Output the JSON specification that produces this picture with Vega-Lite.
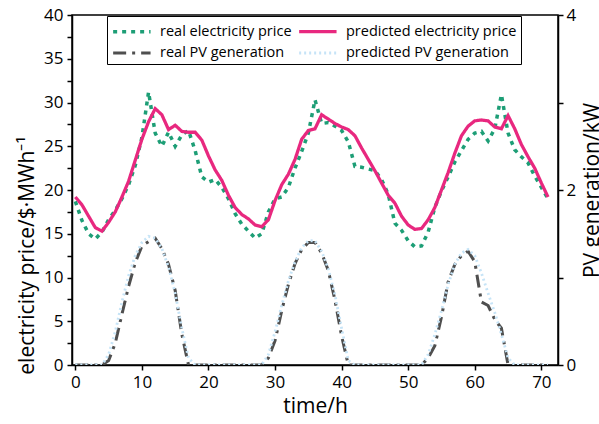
{
  "$schema": "https://vega.github.io/schema/vega-lite/v6.json",
  "width": 486,
  "height": 350,
  "autosize": {"type": "none"},
  "padding": {"left": 72, "top": 15, "right": 41, "bottom": 59},
  "background": "white",
  "config": {
    "view": {"stroke": "black", "strokeWidth": 1.5},
    "font": "Open Sans",
    "axis": {
      "grid": false,
      "domainColor": "black",
      "domainWidth": 1.5,
      "tickColor": "black",
      "tickWidth": 1.5,
      "tickSize": 5,
      "labelColor": "black",
      "labelFont": "Open Sans",
      "labelFontSize": 17,
      "titleFont": "Open Sans",
      "titleFontSize": 21,
      "titleFontWeight": "normal",
      "titleColor": "black"
    },
    "legend": {
      "orient": "none",
      "direction": "horizontal",
      "legendX": 35,
      "legendY": 1,
      "columns": 2,
      "columnPadding": 0,
      "rowPadding": 3,
      "padding": 4,
      "strokeColor": "black",
      "fillColor": "white",
      "labelFont": "Open Sans",
      "labelFontSize": 14.5,
      "labelColor": "black",
      "labelOffset": 26,
      "labelLimit": 400,
      "symbolType": "M-1,0H3",
      "symbolSize": 350,
      "title": null
    }
  },
  "data": {
    "values": [
      {"t":0,"real electricity price":18.7,"predicted electricity price":19.2,"real PV generation":0,"predicted PV generation":0},
      {"t":1,"real electricity price":16.5,"predicted electricity price":18.3,"real PV generation":0,"predicted PV generation":0},
      {"t":2,"real electricity price":15.0,"predicted electricity price":17.0,"real PV generation":0,"predicted PV generation":0},
      {"t":3,"real electricity price":14.4,"predicted electricity price":15.7,"real PV generation":0,"predicted PV generation":0},
      {"t":4,"real electricity price":15.2,"predicted electricity price":15.3,"real PV generation":0,"predicted PV generation":0},
      {"t":5,"real electricity price":16.6,"predicted electricity price":16.3,"real PV generation":0.05,"predicted PV generation":0.12},
      {"t":6,"real electricity price":17.7,"predicted electricity price":17.5,"real PV generation":0.25,"predicted PV generation":0.38},
      {"t":7,"real electricity price":19.0,"predicted electricity price":19.2,"real PV generation":0.58,"predicted PV generation":0.72},
      {"t":8,"real electricity price":20.6,"predicted electricity price":21.0,"real PV generation":0.9,"predicted PV generation":1.02},
      {"t":9,"real electricity price":22.8,"predicted electricity price":23.4,"real PV generation":1.17,"predicted PV generation":1.25},
      {"t":10,"real electricity price":26.0,"predicted electricity price":25.8,"real PV generation":1.36,"predicted PV generation":1.4},
      {"t":11,"real electricity price":31.2,"predicted electricity price":27.8,"real PV generation":1.41,"predicted PV generation":1.47},
      {"t":12,"real electricity price":26.5,"predicted electricity price":29.3,"real PV generation":1.45,"predicted PV generation":1.45},
      {"t":13,"real electricity price":25.0,"predicted electricity price":28.6,"real PV generation":1.33,"predicted PV generation":1.33},
      {"t":14,"real electricity price":26.6,"predicted electricity price":26.9,"real PV generation":1.15,"predicted PV generation":1.12},
      {"t":15,"real electricity price":25.0,"predicted electricity price":27.4,"real PV generation":0.85,"predicted PV generation":0.82},
      {"t":16,"real electricity price":26.3,"predicted electricity price":26.7,"real PV generation":0.35,"predicted PV generation":0.42},
      {"t":17,"real electricity price":26.8,"predicted electricity price":26.6,"real PV generation":0,"predicted PV generation":0.08},
      {"t":18,"real electricity price":24.5,"predicted electricity price":26.6,"real PV generation":0,"predicted PV generation":0},
      {"t":19,"real electricity price":21.5,"predicted electricity price":25.7,"real PV generation":0,"predicted PV generation":0},
      {"t":20,"real electricity price":20.9,"predicted electricity price":23.9,"real PV generation":0,"predicted PV generation":0},
      {"t":21,"real electricity price":21.2,"predicted electricity price":22.3,"real PV generation":0,"predicted PV generation":0},
      {"t":22,"real electricity price":20.3,"predicted electricity price":21.1,"real PV generation":0,"predicted PV generation":0},
      {"t":23,"real electricity price":19.0,"predicted electricity price":19.4,"real PV generation":0,"predicted PV generation":0},
      {"t":24,"real electricity price":17.3,"predicted electricity price":18.0,"real PV generation":0,"predicted PV generation":0},
      {"t":25,"real electricity price":16.1,"predicted electricity price":17.2,"real PV generation":0,"predicted PV generation":0},
      {"t":26,"real electricity price":15.3,"predicted electricity price":16.7,"real PV generation":0,"predicted PV generation":0},
      {"t":27,"real electricity price":14.5,"predicted electricity price":16.0,"real PV generation":0,"predicted PV generation":0},
      {"t":28,"real electricity price":15.0,"predicted electricity price":15.8,"real PV generation":0,"predicted PV generation":0},
      {"t":29,"real electricity price":17.5,"predicted electricity price":16.6,"real PV generation":0.08,"predicted PV generation":0.12},
      {"t":30,"real electricity price":19.0,"predicted electricity price":18.8,"real PV generation":0.28,"predicted PV generation":0.38},
      {"t":31,"real electricity price":19.2,"predicted electricity price":20.6,"real PV generation":0.62,"predicted PV generation":0.68},
      {"t":32,"real electricity price":20.3,"predicted electricity price":21.8,"real PV generation":0.92,"predicted PV generation":0.96},
      {"t":33,"real electricity price":22.5,"predicted electricity price":23.5,"real PV generation":1.16,"predicted PV generation":1.18},
      {"t":34,"real electricity price":24.4,"predicted electricity price":25.8,"real PV generation":1.32,"predicted PV generation":1.34},
      {"t":35,"real electricity price":26.5,"predicted electricity price":26.8,"real PV generation":1.4,"predicted PV generation":1.42},
      {"t":36,"real electricity price":30.3,"predicted electricity price":27.0,"real PV generation":1.4,"predicted PV generation":1.42},
      {"t":37,"real electricity price":27.6,"predicted electricity price":28.6,"real PV generation":1.28,"predicted PV generation":1.3},
      {"t":38,"real electricity price":27.7,"predicted electricity price":28.1,"real PV generation":1.08,"predicted PV generation":1.1},
      {"t":39,"real electricity price":27.3,"predicted electricity price":27.6,"real PV generation":0.74,"predicted PV generation":0.8},
      {"t":40,"real electricity price":26.8,"predicted electricity price":27.2,"real PV generation":0.33,"predicted PV generation":0.42},
      {"t":41,"real electricity price":25.5,"predicted electricity price":26.9,"real PV generation":0,"predicted PV generation":0.05},
      {"t":42,"real electricity price":22.7,"predicted electricity price":26.2,"real PV generation":0,"predicted PV generation":0},
      {"t":43,"real electricity price":22.6,"predicted electricity price":24.8,"real PV generation":0,"predicted PV generation":0},
      {"t":44,"real electricity price":22.4,"predicted electricity price":23.5,"real PV generation":0,"predicted PV generation":0},
      {"t":45,"real electricity price":22.2,"predicted electricity price":22.2,"real PV generation":0,"predicted PV generation":0},
      {"t":46,"real electricity price":21.2,"predicted electricity price":20.8,"real PV generation":0,"predicted PV generation":0},
      {"t":47,"real electricity price":19.5,"predicted electricity price":19.4,"real PV generation":0,"predicted PV generation":0},
      {"t":48,"real electricity price":16.2,"predicted electricity price":18.5,"real PV generation":0,"predicted PV generation":0},
      {"t":49,"real electricity price":15.4,"predicted electricity price":17.0,"real PV generation":0,"predicted PV generation":0},
      {"t":50,"real electricity price":14.2,"predicted electricity price":16.0,"real PV generation":0,"predicted PV generation":0},
      {"t":51,"real electricity price":13.5,"predicted electricity price":15.5,"real PV generation":0,"predicted PV generation":0},
      {"t":52,"real electricity price":13.6,"predicted electricity price":15.6,"real PV generation":0,"predicted PV generation":0},
      {"t":53,"real electricity price":15.2,"predicted electricity price":16.6,"real PV generation":0.08,"predicted PV generation":0.12},
      {"t":54,"real electricity price":18.0,"predicted electricity price":18.0,"real PV generation":0.22,"predicted PV generation":0.35},
      {"t":55,"real electricity price":19.9,"predicted electricity price":20.0,"real PV generation":0.55,"predicted PV generation":0.62},
      {"t":56,"real electricity price":21.5,"predicted electricity price":22.0,"real PV generation":0.95,"predicted PV generation":0.92},
      {"t":57,"real electricity price":23.2,"predicted electricity price":24.2,"real PV generation":1.15,"predicted PV generation":1.15},
      {"t":58,"real electricity price":24.5,"predicted electricity price":26.2,"real PV generation":1.25,"predicted PV generation":1.28},
      {"t":59,"real electricity price":25.8,"predicted electricity price":27.3,"real PV generation":1.3,"predicted PV generation":1.32},
      {"t":60,"real electricity price":26.5,"predicted electricity price":27.9,"real PV generation":1.18,"predicted PV generation":1.25},
      {"t":61,"real electricity price":26.7,"predicted electricity price":28.0,"real PV generation":0.72,"predicted PV generation":1.05},
      {"t":62,"real electricity price":25.6,"predicted electricity price":27.9,"real PV generation":0.68,"predicted PV generation":0.82},
      {"t":63,"real electricity price":27.0,"predicted electricity price":27.2,"real PV generation":0.52,"predicted PV generation":0.6},
      {"t":64,"real electricity price":30.9,"predicted electricity price":27.0,"real PV generation":0.42,"predicted PV generation":0.35},
      {"t":65,"real electricity price":26.5,"predicted electricity price":28.5,"real PV generation":0,"predicted PV generation":0.08},
      {"t":66,"real electricity price":24.6,"predicted electricity price":27.0,"real PV generation":0,"predicted PV generation":0},
      {"t":67,"real electricity price":23.8,"predicted electricity price":25.2,"real PV generation":0,"predicted PV generation":0},
      {"t":68,"real electricity price":23.1,"predicted electricity price":23.8,"real PV generation":0,"predicted PV generation":0},
      {"t":69,"real electricity price":21.6,"predicted electricity price":22.5,"real PV generation":0,"predicted PV generation":0},
      {"t":70,"real electricity price":20.3,"predicted electricity price":20.8,"real PV generation":0,"predicted PV generation":0},
      {"t":71,"real electricity price":19.0,"predicted electricity price":19.2,"real PV generation":0,"predicted PV generation":0}
    ]
  },
  "layer": [
    {
      "transform": [{"fold": ["real PV generation", "predicted PV generation"], "as": ["series", "val"]}],
      "mark": {"type": "line", "clip": true},
      "encoding": {
        "x": {"field": "t", "type": "quantitative",
          "scale": {"domain": [-0.5, 72.5], "nice": false, "zero": false},
          "axis": {"title": "time/h", "values": [0,5,10,15,20,25,30,35,40,45,50,55,60,65,70],
            "labelExpr": "datum.value % 10 == 0 ? datum.label : ''", "labelPadding": 4, "titlePadding": 5}},
        "y": {"field": "val", "type": "quantitative",
          "scale": {"domain": [0, 4], "nice": false},
          "axis": {"orient": "right", "title": "PV generation/kW", "values": [0,1,2,3,4],
            "labelExpr": "datum.value % 2 == 0 ? datum.label : ''", "labelPadding": 3,
            "titleAngle": -90, "titleAlign": "center", "titleBaseline": "alphabetic", "titleX": 40, "titleY": 175}},
        "color": {"field": "series", "type": "nominal",
          "scale": {"domain": ["real electricity price", "predicted electricity price", "real PV generation", "predicted PV generation"],
            "range": ["#1d9e76", "#e8287f", "#4f4f4f", "#c6e4f7"]}},
        "strokeDash": {"field": "series", "type": "nominal",
          "scale": {"domain": ["real electricity price", "predicted electricity price", "real PV generation", "predicted PV generation"],
            "range": [[4, 5], [1, 0], [13, 6, 3, 6], [2, 3]]}},
        "strokeWidth": {"field": "series", "type": "nominal",
          "scale": {"domain": ["real electricity price", "predicted electricity price", "real PV generation", "predicted PV generation"],
            "range": [3.5, 2.8, 3.5, 1.5]}},
        "order": {"field": "t", "type": "quantitative"}
      }
    },
    {
      "transform": [{"fold": ["real electricity price", "predicted electricity price"], "as": ["series", "val"]}],
      "mark": {"type": "line", "clip": true},
      "encoding": {
        "x": {"field": "t", "type": "quantitative"},
        "y": {"field": "val", "type": "quantitative",
          "scale": {"domain": [0, 40], "nice": false},
          "axis": {"orient": "left", "title": "electricity price/$·MWh⁻¹",
            "values": [0,2.5,5,7.5,10,12.5,15,17.5,20,22.5,25,27.5,30,32.5,35,37.5,40],
            "labelExpr": "datum.value % 5 == 0 ? datum.label : ''", "labelPadding": 4,
            "titleAngle": -90, "titleAlign": "center", "titleBaseline": "alphabetic", "titleX": -39, "titleY": 240}},
        "color": {"field": "series", "type": "nominal"},
        "strokeDash": {"field": "series", "type": "nominal"},
        "strokeWidth": {"field": "series", "type": "nominal"},
        "order": {"field": "t", "type": "quantitative"}
      }
    }
  ],
  "resolve": {"scale": {"y": "independent"}, "axis": {"y": "independent"}}
}
